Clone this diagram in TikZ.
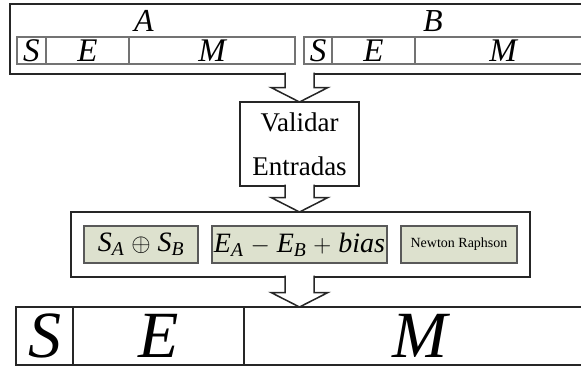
\documentclass[tikz,border=0pt]{standalone}
\usepackage{fontspec}
\setmainfont{Liberation Serif}
\usepackage{tikz}
\usetikzlibrary{positioning,calc}

\definecolor{formfill}{RGB}{221,225,206}
\newcommand{\fldfont}{\fontsize{33}{33}\selectfont\itshape}
\newcommand{\lblfont}{\fontsize{32}{32}\selectfont\itshape}
\newcommand{\valfont}{\fontsize{27}{44}\selectfont}
\newcommand{\frmfont}{\fontsize{28}{28}\selectfont}
\newcommand{\nrfont}{\fontsize{14}{14}\selectfont}
\newcommand{\resfont}{\fontsize{66}{66}\selectfont\itshape}
\newcommand{\blockarrow}[2]{%
  \path (val |- #1.south) coordinate (#1-out) (val |- #2.north) coordinate (#2-in);
  \draw[barrow] ($(#1-out)+(-14.5,-1.5)$) -- ($(#2-in)+(-14.5,-14.5)$) -- ($(#2-in)+(-28.5,-14.5)$) -- (#2-in)
     -- ($(#2-in)+(28.5,-14.5)$) -- ($(#2-in)+(14.5,-14.5)$) -- ($(#1-out)+(14.5,-1.5)$);}

\begin{document}
\begin{tikzpicture}[x=1pt,y=-1pt,semithick]
\tikzstyle{frame}=[draw=black!85,line width=2pt,inner sep=0pt,outer sep=0pt]
\tikzstyle{field}=[draw=black!55,line width=1.2pt,inner sep=0pt,outer sep=0pt,minimum height=27pt,font=\fldfont]
\tikzstyle{form}=[fill=formfill,draw=black!65,line width=1.2pt,inner sep=0pt,outer sep=0pt,minimum height=37pt,font=\frmfont]
\tikzstyle{barrow}=[draw=black!85,line width=1.5pt,fill=white,line join=miter]
\useasboundingbox (0,0) rectangle (581,367);
\clip (0,0) rectangle (581,367);

% operandos A y B
\node[frame,anchor=north west,minimum width=600pt,minimum height=70pt] (top) at (10,4) {};
\node[font=\lblfont] (labA) at (144,21) {A};
\node[font=\lblfont] (labB) at (433,21) {B};
\node[field,anchor=north west,minimum width=29pt] (aS) at (17,37) {S};
\node[field,minimum width=83pt,right=0pt of aS] (aE) {E};
\node[field,minimum width=166pt,right=0pt of aE] (aM) {M};
\node[field,anchor=north west,minimum width=28pt] (bS) at (304,37) {S};
\node[field,minimum width=83pt,right=0pt of bS] (bE) {E};
\node[field,minimum width=176pt,right=0pt of bE] (bM) {M};

% validacion
\node[frame,line width=1.5pt,minimum width=119pt,minimum height=84pt,align=center,font=\valfont] (val) at (299.5,144) {Validar\\Entradas};

% proceso
\node[frame,minimum width=459pt,minimum height=65pt] (proc) at (300.5,244.5) {};
\node[form,anchor=west,minimum width=114pt] (fS) at (84,244.5)
  {{\itshape S\textsubscript{A}} $\oplus$ {\itshape S\textsubscript{B}}};
\node[form,minimum width=175pt,right=14pt of fS] (fE)
  {{\itshape E\textsubscript{A}} $-$ {\itshape E\textsubscript{B}} $+$ {\itshape bias}};
\node[form,minimum width=116pt,right=14pt of fE,font=\nrfont] (fN) {Newton Raphson};

% resultado
\node[frame,anchor=north west,minimum width=57pt,minimum height=58pt,font=\resfont] (rS) at (16,307) {S};
\node[frame,minimum width=171pt,minimum height=58pt,right=0pt of rS,font=\resfont] (rE) {E};
\node[frame,minimum width=352pt,minimum height=58pt,right=0pt of rE,font=\resfont] (rM) {M};

\blockarrow{top}{val}
\blockarrow{val}{proc}
\blockarrow{proc}{rM}
\end{tikzpicture}
\end{document}
